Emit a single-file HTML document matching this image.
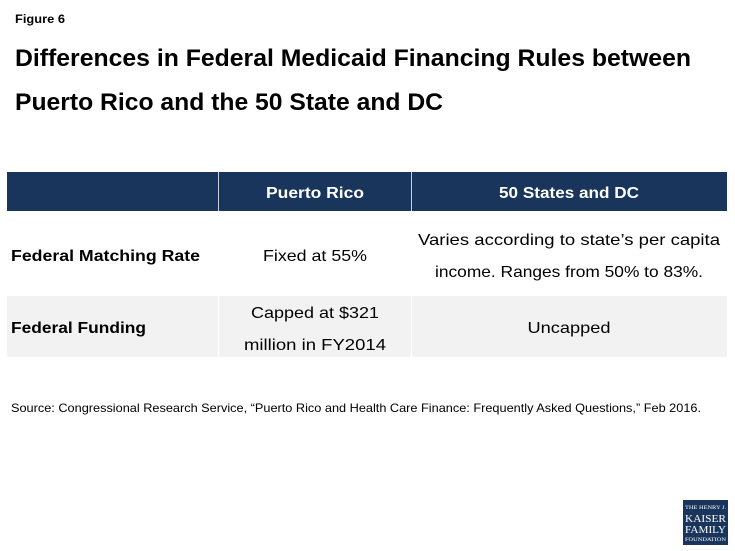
<!DOCTYPE html>
<html><head><meta charset="utf-8"><style>
body{margin:0;background:#fff;}
svg{display:block;font-family:"Liberation Sans",sans-serif;}
</style></head><body>
<svg width="735" height="551" viewBox="0 0 735 551">
<text x="15" y="23" font-size="12" font-weight="bold" fill="#000" textLength="50" lengthAdjust="spacingAndGlyphs">Figure 6</text>
<text x="15" y="66" font-size="24" font-weight="bold" fill="#000" textLength="676" lengthAdjust="spacingAndGlyphs">Differences in Federal Medicaid Financing Rules between</text>
<text x="15" y="110" font-size="24" font-weight="bold" fill="#000" textLength="428" lengthAdjust="spacingAndGlyphs">Puerto Rico and the 50 State and DC</text>

<g>
<rect x="7" y="172" width="720" height="39" fill="#1a355b"/>
<line x1="218.5" y1="172" x2="218.5" y2="211" stroke="#c8d0dc" stroke-width="1"/>
<line x1="411.5" y1="172" x2="411.5" y2="211" stroke="#c8d0dc" stroke-width="1"/>
<text x="315" y="198" font-size="16" font-weight="bold" fill="#fff" text-anchor="middle" textLength="98" lengthAdjust="spacingAndGlyphs">Puerto Rico</text>
<text x="569" y="198" font-size="16" font-weight="bold" fill="#fff" text-anchor="middle" textLength="140" lengthAdjust="spacingAndGlyphs">50 States and DC</text>

<rect x="7" y="296" width="720" height="61" fill="#f2f2f2"/>
<line x1="218.5" y1="296" x2="218.5" y2="357" stroke="#fff" stroke-width="1.5"/>
<line x1="411.5" y1="296" x2="411.5" y2="357" stroke="#fff" stroke-width="1.5"/>

<text x="11" y="261" font-size="16" font-weight="bold" fill="#000" textLength="189" lengthAdjust="spacingAndGlyphs">Federal Matching Rate</text>
<text x="315" y="261" font-size="16" fill="#000" text-anchor="middle" textLength="104" lengthAdjust="spacingAndGlyphs">Fixed at 55%</text>
<text x="569" y="245" font-size="16" fill="#000" text-anchor="middle" textLength="302" lengthAdjust="spacingAndGlyphs">Varies according to state’s per capita</text>
<text x="569" y="277" font-size="16" fill="#000" text-anchor="middle" textLength="268" lengthAdjust="spacingAndGlyphs">income. Ranges from 50% to 83%.</text>

<text x="11" y="333" font-size="16" font-weight="bold" fill="#000" textLength="135" lengthAdjust="spacingAndGlyphs">Federal Funding</text>
<text x="315" y="318" font-size="16" fill="#000" text-anchor="middle" textLength="128" lengthAdjust="spacingAndGlyphs">Capped at $321</text>
<text x="315" y="350" font-size="16" fill="#000" text-anchor="middle" textLength="142" lengthAdjust="spacingAndGlyphs">million in FY2014</text>
<text x="569" y="333" font-size="16" fill="#000" text-anchor="middle" textLength="83" lengthAdjust="spacingAndGlyphs">Uncapped</text>
</g>

<text x="11" y="412" font-size="12" fill="#000" textLength="690" lengthAdjust="spacingAndGlyphs">Source: Congressional Research Service, “Puerto Rico and Health Care Finance: Frequently Asked Questions,” Feb 2016.</text>

<g>
<rect x="683" y="500" width="45" height="45" fill="#1a355b"/>
<text x="705.5" y="509" font-size="5" fill="#fff" text-anchor="middle" font-family="Liberation Serif,serif" textLength="41" lengthAdjust="spacingAndGlyphs">THE HENRY J.</text>
<text x="705.5" y="522" font-size="11" fill="#fff" text-anchor="middle" font-family="Liberation Serif,serif" textLength="41" lengthAdjust="spacingAndGlyphs">KAISER</text>
<text x="705.5" y="533" font-size="11" fill="#fff" text-anchor="middle" font-family="Liberation Serif,serif" textLength="41" lengthAdjust="spacingAndGlyphs">FAMILY</text>
<text x="705.5" y="541" font-size="5" fill="#fff" text-anchor="middle" font-family="Liberation Serif,serif" textLength="41" lengthAdjust="spacingAndGlyphs">FOUNDATION</text>
</g>
</svg>
</body></html>
